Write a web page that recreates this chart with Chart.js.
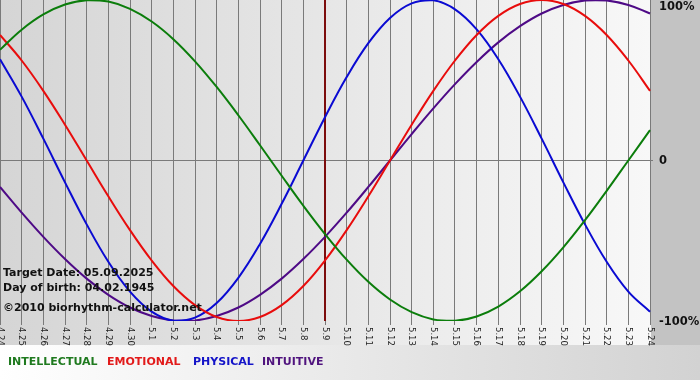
<!DOCTYPE html>
<html><head><meta charset="utf-8">
<script src="https://cdn.jsdelivr.net/npm/chart.js@4"></script>
<style>html,body{margin:0;padding:0;background:#fff;overflow:hidden}canvas{display:block}</style>
</head><body>
<canvas id="c" width="700" height="380"></canvas>
<script>
// ---- data ----
const dayLabels = ['4.24','4.25','4.26','4.27','4.28','4.29','4.30','5.1','5.2','5.3','5.4','5.5','5.6','5.7','5.8','5.9','5.10','5.11','5.12','5.13','5.14','5.15','5.16','5.17','5.18','5.19','5.20','5.21','5.22','5.23','5.24'];
const intellectual = [0.690,0.815,0.910,0.972,0.999,0.990,0.945,0.866,0.756,0.618,0.458,0.282,0.095,-0.095,-0.282,-0.458,-0.618,-0.756,-0.866,-0.945,-0.990,-0.999,-0.972,-0.910,-0.815,-0.690,-0.541,-0.372,-0.189,0,0.189];
const emotional = [0.782,0.623,0.434,0.223,0,-0.223,-0.434,-0.623,-0.782,-0.901,-0.975,-1,-0.975,-0.901,-0.782,-0.623,-0.434,-0.223,0,0.223,0.434,0.623,0.782,0.901,0.975,1,0.975,0.901,0.782,0.623,0.434];
const physical = [0.631,0.398,0.136,-0.136,-0.398,-0.631,-0.817,-0.942,-0.998,-0.979,-0.888,-0.731,-0.520,-0.270,0,0.270,0.520,0.731,0.888,0.979,0.998,0.942,0.817,0.631,0.398,0.136,-0.136,-0.398,-0.631,-0.817,-0.942];
const intuitive = [-0.165,-0.325,-0.476,-0.614,-0.736,-0.837,-0.916,-0.969,-0.997,-0.997,-0.969,-0.916,-0.837,-0.736,-0.614,-0.476,-0.325,-0.165,0,0.165,0.325,0.476,0.614,0.736,0.837,0.916,0.969,0.997,0.997,0.969,0.916];
const yTickValues = [1, 0, -1];
const yTickLabels = ['100%', '0', '-100%'];
const targetDay = '5.9';
const infoLines = ['Target Date: 05.09.2025', 'Day of birth: 04.02.1945', '\u00A92010 biorhythm-calculator.net'];
const seriesNames = ['INTELLECTUAL', 'EMOTIONAL', 'PHYSICAL', 'INTUITIVE'];
const seriesColors = ['#0b7d0b', '#e80c0c', '#0a0ad2', '#4e0a86'];
const legendColors = ['#1f7a1f', '#e21a1a', '#1414c8', '#50147e'];

const deco = {
  id: 'deco',
  beforeDraw(chart) {
    const {ctx, chartArea: a, width, height} = chart;
    ctx.save();
    let g = ctx.createLinearGradient(a.left, 0, a.right, 0);
    g.addColorStop(0, '#d5d5d5');
    g.addColorStop(1, '#f8f8f8');
    ctx.fillStyle = g;
    ctx.fillRect(0, 0, a.right + 1, 345);
    ctx.fillStyle = '#c3c3c3';
    ctx.fillRect(a.right + 1, 0, width - a.right - 1, 345);
    let g2 = ctx.createLinearGradient(0, 0, width, 0);
    g2.addColorStop(0, '#ffffff');
    g2.addColorStop(1, '#d2d2d2');
    ctx.fillStyle = g2;
    ctx.fillRect(0, 345, width, height - 345);
    ctx.restore();
  },
  beforeDatasetsDraw(chart) {
    const {ctx, chartArea: a, scales} = chart;
    const x = scales.x.getPixelForValue(dayLabels.indexOf(targetDay));
    ctx.save();
    ctx.strokeStyle = '#7c0c0c';
    ctx.lineWidth = 2;
    ctx.beginPath();
    ctx.moveTo(x, a.top);
    ctx.lineTo(x, a.bottom);
    ctx.stroke();
    ctx.restore();
  },
  afterDraw(chart) {
    const {ctx, chartArea: a, scales} = chart;
    ctx.save();
    // right axis labels
    ctx.font = 'bold 11.5px "DejaVu Sans"';
    ctx.fillStyle = '#111';
    ctx.textAlign = 'left';
    ctx.textBaseline = 'middle';
    yTickValues.forEach((v, i) => {
      let y = scales.y.getPixelForValue(v);
      y = Math.max(7, y + (v < 0 ? 1.5 : 1));
      ctx.fillText(yTickLabels[i], a.right + 9, y);
    });
    // x labels rotated
    ctx.font = '8.5px "DejaVu Sans"';
    ctx.fillStyle = '#222';
    dayLabels.forEach((lab, i) => {
      const x = scales.x.getPixelForValue(i);
      ctx.save();
      ctx.translate(x, a.bottom + 6);
      ctx.rotate(Math.PI / 2);
      ctx.textAlign = 'left';
      ctx.textBaseline = 'middle';
      ctx.fillText(lab, 0, 0);
      ctx.restore();
    });
    // info text
    ctx.font = 'bold 11px "DejaVu Sans"';
    ctx.fillStyle = '#111';
    ctx.textBaseline = 'alphabetic';
    const infoY = [276, 291, 311];
    infoLines.forEach((t, i) => ctx.fillText(t, 3, infoY[i]));
    // legend
    ctx.font = 'bold 11px "DejaVu Sans"';
    const lx = [8, 107, 193, 262];
    seriesNames.forEach((n, i) => {
      ctx.fillStyle = legendColors[i];
      ctx.fillText(n, lx[i], 365);
    });
    ctx.restore();
  }
};

new Chart(document.getElementById('c'), {
  type: 'line',
  data: {
    labels: dayLabels,
    datasets: [
      {label: seriesNames[0], data: intellectual, borderColor: seriesColors[0]},
      {label: seriesNames[1], data: emotional, borderColor: seriesColors[1]},
      {label: seriesNames[2], data: physical, borderColor: seriesColors[2]},
      {label: seriesNames[3], data: intuitive, borderColor: seriesColors[3]}
    ]
  },
  options: {
    responsive: false,
    animation: false,
    devicePixelRatio: 1,
    layout: {padding: 0},
    plugins: {legend: {display: false}, tooltip: {enabled: false}},
    elements: {point: {radius: 0}, line: {tension: 0.4, borderWidth: 2, fill: false}},
    scales: {
      x: {
        ticks: {display: false, autoSkip: false},
        grid: {color: '#7a7a7a', tickLength: 4, drawTicks: true},
        border: {display: false},
        afterFit(s) { s.height = 59; }
      },
      y: {
        position: 'right', min: -1, max: 1,
        ticks: {display: false, stepSize: 1},
        grid: {color: c => (c.tick && c.tick.value === 0) ? '#7a7a7a' : 'rgba(0,0,0,0)', tickLength: 3},
        border: {display: false},
        afterFit(s) { s.width = 50; }
      }
    }
  },
  plugins: [deco]
});
</script>
</body></html>
